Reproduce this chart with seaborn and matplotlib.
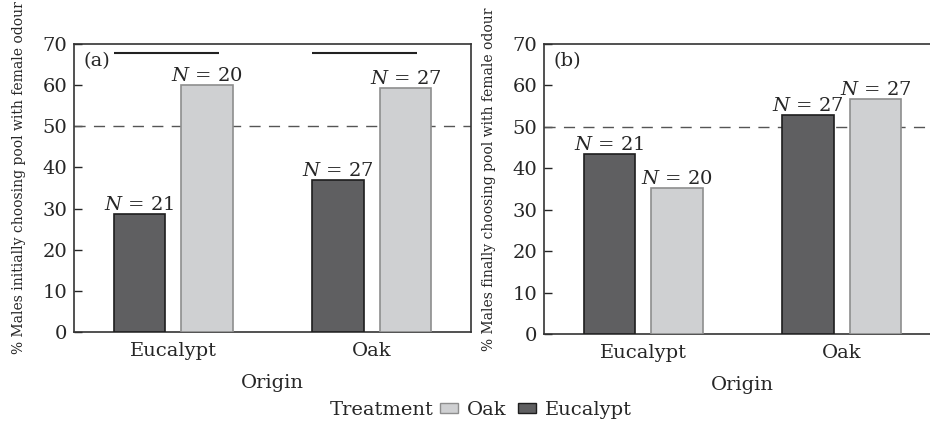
import pandas as pd
import seaborn as sns
import matplotlib.pyplot as plt
from matplotlib.patches import Patch

# === Data ===
origins = ['Eucalypt', 'Oak']
treatments = ['Eucalypt', 'Oak']

# % males initially choosing pool with female odour (panel a)
initial_euc = [28.6, 37.0]   # Eucalypt treatment, by origin
initial_oak = [60.0, 59.3]   # Oak treatment, by origin
# % males finally choosing pool with female odour (panel b)
final_euc = [43.4, 52.9]
final_oak = [35.3, 56.7]

n_euc = [21, 27]
n_oak = [20, 27]

# significance bars over origin groups in panel (a)
sig_origins = ['Eucalypt', 'Oak']
sig_level = 67.8

colors = {'Eucalypt': '#5f5f61', 'Oak': '#cfd0d2'}
edges = {'Eucalypt': '#1e1e1e', 'Oak': '#8e8e8e'}

sns.set_style('white')
plt.rcParams['font.family'] = ['DejaVu Serif']
plt.rcParams['mathtext.fontset'] = 'dejavuserif'

FS = 14


def make_df(euc_vals, oak_vals):
    rows = []
    for i, o in enumerate(origins):
        rows.append({'Origin': o, 'Treatment': 'Eucalypt', 'pct': euc_vals[i], 'N': n_euc[i]})
        rows.append({'Origin': o, 'Treatment': 'Oak', 'pct': oak_vals[i], 'N': n_oak[i]})
    return pd.DataFrame(rows)


fig = plt.figure(figsize=(9.3, 4.28), dpi=100)
ax_a = fig.add_axes([74 / 930, 96 / 428, 397 / 930, 288 / 428])
ax_b = fig.add_axes([544 / 930, 94 / 428, 397 / 930, 290 / 428])

panels = [
    (ax_a, make_df(initial_euc, initial_oak), '(a)', '% Males initially choosing pool with female odour'),
    (ax_b, make_df(final_euc, final_oak), '(b)', '% Males finally choosing pool with female odour'),
]

for ax, df, tag, ylab in panels:
    sns.barplot(data=df, x='Origin', y='pct', hue='Treatment', order=origins,
                hue_order=treatments, palette=colors, width=0.68, gap=0.235,
                errorbar=None, legend=False, ax=ax, zorder=3)
    for container, t in zip(ax.containers, treatments):
        for bar in container:
            bar.set_edgecolor(edges[t])
            bar.set_linewidth(1.2)
        sub = df[df['Treatment'] == t]
        labels = ['$\\mathit{N}$ = %d' % n for n in sub['N']]
        ax.bar_label(container, labels=labels, padding=0, fontsize=FS)
    ax.axhline(50, color='#555555', lw=1, dashes=(8, 6), zorder=1)
    ax.set_ylim(0, 70)
    ax.set_xlim(-0.5, 1.5)
    ax.set_yticks(range(0, 71, 10))
    ax.tick_params(axis='y', direction='in', length=6, width=1, labelsize=FS, left=True, pad=5)
    ax.tick_params(axis='x', length=0, labelsize=FS, pad=7)
    ax.set_xlabel('Origin', fontsize=FS, labelpad=10)
    ax.set_ylabel(ylab, fontsize=10)
    ax.yaxis.set_label_coords(-0.12, 0.535)
    ax.text(0.025, 0.94, tag, transform=ax.transAxes, fontsize=FS, va='center')
    for s in ax.spines.values():
        s.set_color('#333333')
        s.set_linewidth(1.2)

for o in sig_origins:
    i = origins.index(o)
    ax_a.plot([i - 0.3, i + 0.23], [sig_level, sig_level], color='#222222', lw=1.5,
              solid_capstyle='butt', clip_on=False, zorder=4)

# legend at the bottom
fig.text(434 / 930, 18 / 428, 'Treatment', ha='right', va='center', fontsize=FS)
handles = [Patch(facecolor=colors['Oak'], edgecolor=edges['Oak']),
           Patch(facecolor=colors['Eucalypt'], edgecolor=edges['Eucalypt'])]
fig.legend(handles, ['Oak', 'Eucalypt'], loc='center left', bbox_to_anchor=(440 / 930, 18 / 428),
           ncol=2, frameon=False, fontsize=FS, handlelength=0.95, handleheight=0.35,
           handletextpad=0.45, columnspacing=0.55, borderpad=0, borderaxespad=0)

plt.savefig('out.png', dpi=100)
